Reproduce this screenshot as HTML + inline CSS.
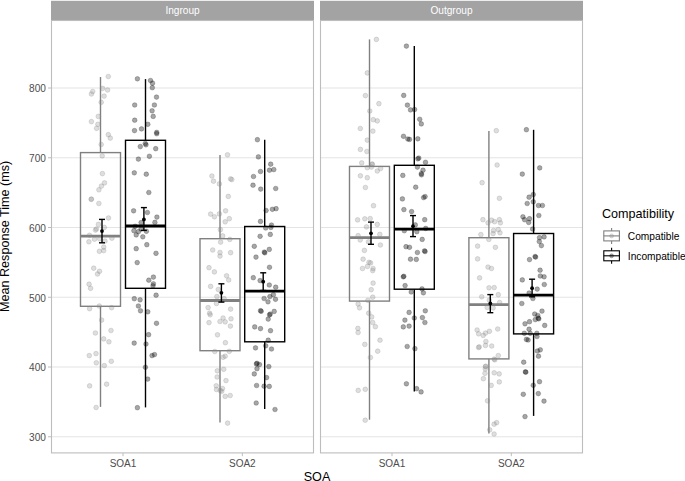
<!DOCTYPE html>
<html><head><meta charset="utf-8"><style>
html,body{margin:0;padding:0;background:#fff;overflow:hidden;}
svg{display:block;font-family:"Liberation Sans",sans-serif;}
circle.c{fill:#888;fill-opacity:.28;stroke:#888;stroke-opacity:.32;stroke-width:.8px;}
circle.i{fill:#000;fill-opacity:.35;stroke:#000;stroke-opacity:.27;stroke-width:.8px;}
</style></head><body>
<svg width="685" height="481" viewBox="0 0 685 481">
<rect x="0" y="0" width="685" height="481" fill="#fff"/>
<line x1="51.5" y1="436.77" x2="313.5" y2="436.77" stroke="#e4e4e4" stroke-width="1.15"/>
<line x1="51.5" y1="367.02" x2="313.5" y2="367.02" stroke="#e4e4e4" stroke-width="1.15"/>
<line x1="51.5" y1="297.27" x2="313.5" y2="297.27" stroke="#e4e4e4" stroke-width="1.15"/>
<line x1="51.5" y1="227.52" x2="313.5" y2="227.52" stroke="#e4e4e4" stroke-width="1.15"/>
<line x1="51.5" y1="157.77" x2="313.5" y2="157.77" stroke="#e4e4e4" stroke-width="1.15"/>
<line x1="51.5" y1="88.02" x2="313.5" y2="88.02" stroke="#e4e4e4" stroke-width="1.15"/>
<rect x="51.0" y="0.8" width="263.0" height="19.2" fill="#a3a3a3"/>
<text x="182.5" y="13.7" fill="#fff" font-size="10.1" text-anchor="middle">Ingroup</text>
<line x1="320.5" y1="436.77" x2="582.5" y2="436.77" stroke="#e4e4e4" stroke-width="1.15"/>
<line x1="320.5" y1="367.02" x2="582.5" y2="367.02" stroke="#e4e4e4" stroke-width="1.15"/>
<line x1="320.5" y1="297.27" x2="582.5" y2="297.27" stroke="#e4e4e4" stroke-width="1.15"/>
<line x1="320.5" y1="227.52" x2="582.5" y2="227.52" stroke="#e4e4e4" stroke-width="1.15"/>
<line x1="320.5" y1="157.77" x2="582.5" y2="157.77" stroke="#e4e4e4" stroke-width="1.15"/>
<line x1="320.5" y1="88.02" x2="582.5" y2="88.02" stroke="#e4e4e4" stroke-width="1.15"/>
<rect x="320.0" y="0.8" width="263.0" height="19.2" fill="#a3a3a3"/>
<text x="451.5" y="13.7" fill="#fff" font-size="10.1" text-anchor="middle">Outgroup</text>
<line x1="100.5" y1="77" x2="100.5" y2="152.6" stroke="#808080" stroke-width="1.4"/>
<line x1="100.5" y1="306.3" x2="100.5" y2="406.9" stroke="#808080" stroke-width="1.4"/>
<rect x="80.5" y="152.6" width="40" height="153.7" fill="none" stroke="#808080" stroke-width="1.4"/>
<line x1="80.5" y1="236.2" x2="120.5" y2="236.2" stroke="#808080" stroke-width="2.8"/>
<line x1="145.5" y1="79.1" x2="145.5" y2="140.3" stroke="#000000" stroke-width="1.4"/>
<line x1="145.5" y1="288.3" x2="145.5" y2="407.4" stroke="#000000" stroke-width="1.4"/>
<rect x="125.5" y="140.3" width="40" height="148.0" fill="none" stroke="#000000" stroke-width="1.4"/>
<line x1="125.5" y1="226.0" x2="165.5" y2="226.0" stroke="#000000" stroke-width="2.8"/>
<line x1="220.0" y1="154.9" x2="220.0" y2="238.7" stroke="#808080" stroke-width="1.4"/>
<line x1="220.0" y1="350.7" x2="220.0" y2="422.6" stroke="#808080" stroke-width="1.4"/>
<rect x="200.0" y="238.7" width="40" height="112.0" fill="none" stroke="#808080" stroke-width="1.4"/>
<line x1="200.0" y1="300.5" x2="240.0" y2="300.5" stroke="#808080" stroke-width="2.8"/>
<line x1="264.7" y1="139.8" x2="264.7" y2="226.5" stroke="#000000" stroke-width="1.4"/>
<line x1="264.7" y1="341.8" x2="264.7" y2="408.9" stroke="#000000" stroke-width="1.4"/>
<rect x="244.7" y="226.5" width="40" height="115.3" fill="none" stroke="#000000" stroke-width="1.4"/>
<line x1="244.7" y1="291.1" x2="284.7" y2="291.1" stroke="#000000" stroke-width="2.8"/>
<line x1="369.5" y1="39.4" x2="369.5" y2="166.4" stroke="#808080" stroke-width="1.4"/>
<line x1="369.5" y1="301.1" x2="369.5" y2="419.7" stroke="#808080" stroke-width="1.4"/>
<rect x="349.5" y="166.4" width="40" height="134.7" fill="none" stroke="#808080" stroke-width="1.4"/>
<line x1="349.5" y1="237.7" x2="389.5" y2="237.7" stroke="#808080" stroke-width="2.8"/>
<line x1="414.3" y1="46.0" x2="414.3" y2="165.3" stroke="#000000" stroke-width="1.4"/>
<line x1="414.3" y1="289.2" x2="414.3" y2="391.6" stroke="#000000" stroke-width="1.4"/>
<rect x="394.3" y="165.3" width="40" height="123.9" fill="none" stroke="#000000" stroke-width="1.4"/>
<line x1="394.3" y1="229.1" x2="434.3" y2="229.1" stroke="#000000" stroke-width="2.8"/>
<line x1="488.9" y1="131.0" x2="488.9" y2="237.7" stroke="#808080" stroke-width="1.4"/>
<line x1="488.9" y1="358.9" x2="488.9" y2="433.4" stroke="#808080" stroke-width="1.4"/>
<rect x="468.9" y="237.7" width="40" height="121.2" fill="none" stroke="#808080" stroke-width="1.4"/>
<line x1="468.9" y1="304.6" x2="508.9" y2="304.6" stroke="#808080" stroke-width="2.8"/>
<line x1="533.6" y1="129.8" x2="533.6" y2="233.5" stroke="#000000" stroke-width="1.4"/>
<line x1="533.6" y1="333.9" x2="533.6" y2="415.9" stroke="#000000" stroke-width="1.4"/>
<rect x="513.6" y="233.5" width="40" height="100.4" fill="none" stroke="#000000" stroke-width="1.4"/>
<line x1="513.6" y1="295.2" x2="553.6" y2="295.2" stroke="#000000" stroke-width="2.8"/>
<circle class="c" cx="108.3" cy="76.5" r="2.35"/>
<circle class="c" cx="102.6" cy="88.4" r="2.35"/>
<circle class="c" cx="107.6" cy="90.0" r="2.35"/>
<circle class="c" cx="92.7" cy="91.5" r="2.35"/>
<circle class="c" cx="91.4" cy="94.0" r="2.35"/>
<circle class="c" cx="104.1" cy="96.1" r="2.35"/>
<circle class="c" cx="101.2" cy="102.3" r="2.35"/>
<circle class="c" cx="98.3" cy="116.4" r="2.35"/>
<circle class="c" cx="91.4" cy="121.6" r="2.35"/>
<circle class="c" cx="97.9" cy="124.3" r="2.35"/>
<circle class="c" cx="96.6" cy="128.3" r="2.35"/>
<circle class="c" cx="108.3" cy="134.7" r="2.35"/>
<circle class="c" cx="110.3" cy="138.1" r="2.35"/>
<circle class="c" cx="101.2" cy="144.5" r="2.35"/>
<circle class="c" cx="102.2" cy="155.9" r="2.35"/>
<circle class="c" cx="102.4" cy="173.6" r="2.35"/>
<circle class="c" cx="104.5" cy="182.9" r="2.35"/>
<circle class="c" cx="101.4" cy="186.1" r="2.35"/>
<circle class="c" cx="98.9" cy="189.8" r="2.35"/>
<circle class="c" cx="91.2" cy="199.4" r="2.35"/>
<circle class="c" cx="91.4" cy="199.0" r="2.35"/>
<circle class="c" cx="98.9" cy="203.5" r="2.35"/>
<circle class="c" cx="108.5" cy="218.0" r="2.35"/>
<circle class="c" cx="98.4" cy="224.4" r="2.35"/>
<circle class="c" cx="104.3" cy="227.4" r="2.35"/>
<circle class="c" cx="96.4" cy="229.0" r="2.35"/>
<circle class="c" cx="95.5" cy="230.1" r="2.35"/>
<circle class="c" cx="89.5" cy="235.3" r="2.35"/>
<circle class="c" cx="94.5" cy="239.2" r="2.35"/>
<circle class="c" cx="88.9" cy="241.8" r="2.35"/>
<circle class="c" cx="99.7" cy="238.8" r="2.35"/>
<circle class="c" cx="105" cy="241.0" r="2.35"/>
<circle class="c" cx="111.9" cy="238.2" r="2.35"/>
<circle class="c" cx="103.7" cy="247.1" r="2.35"/>
<circle class="c" cx="99.4" cy="251.3" r="2.35"/>
<circle class="c" cx="103.7" cy="250.6" r="2.35"/>
<circle class="c" cx="93.7" cy="268.2" r="2.35"/>
<circle class="c" cx="99.5" cy="271.3" r="2.35"/>
<circle class="c" cx="97.5" cy="274.0" r="2.35"/>
<circle class="c" cx="89.1" cy="284.2" r="2.35"/>
<circle class="c" cx="90.6" cy="288.3" r="2.35"/>
<circle class="c" cx="89.6" cy="308.7" r="2.35"/>
<circle class="c" cx="99.3" cy="306.0" r="2.35"/>
<circle class="c" cx="111.6" cy="307.7" r="2.35"/>
<circle class="c" cx="101.6" cy="320.1" r="2.35"/>
<circle class="c" cx="95.4" cy="333.0" r="2.35"/>
<circle class="c" cx="111" cy="330.5" r="2.35"/>
<circle class="c" cx="103.7" cy="338.9" r="2.35"/>
<circle class="c" cx="108.9" cy="341.8" r="2.35"/>
<circle class="c" cx="89.3" cy="355.6" r="2.35"/>
<circle class="c" cx="96" cy="353.6" r="2.35"/>
<circle class="c" cx="96.3" cy="362.8" r="2.35"/>
<circle class="c" cx="111.3" cy="361.3" r="2.35"/>
<circle class="c" cx="104.3" cy="365.6" r="2.35"/>
<circle class="c" cx="89.6" cy="385.9" r="2.35"/>
<circle class="c" cx="106.6" cy="384.2" r="2.35"/>
<circle class="c" cx="96.1" cy="407.5" r="2.35"/>
<circle class="i" cx="137.4" cy="78.8" r="2.35"/>
<circle class="i" cx="150.5" cy="80.5" r="2.35"/>
<circle class="i" cx="152.5" cy="83.2" r="2.35"/>
<circle class="i" cx="152.3" cy="87.7" r="2.35"/>
<circle class="i" cx="156.5" cy="97.1" r="2.35"/>
<circle class="i" cx="134.7" cy="105.0" r="2.35"/>
<circle class="i" cx="154.4" cy="105.0" r="2.35"/>
<circle class="i" cx="152.1" cy="110.8" r="2.35"/>
<circle class="i" cx="153.2" cy="116.4" r="2.35"/>
<circle class="i" cx="134.7" cy="120.2" r="2.35"/>
<circle class="i" cx="147.8" cy="124.3" r="2.35"/>
<circle class="i" cx="141.5" cy="128.9" r="2.35"/>
<circle class="i" cx="134.5" cy="130.6" r="2.35"/>
<circle class="i" cx="156.7" cy="132.4" r="2.35"/>
<circle class="i" cx="156.7" cy="133.7" r="2.35"/>
<circle class="i" cx="145.3" cy="143.5" r="2.35"/>
<circle class="i" cx="146" cy="144.8" r="2.35"/>
<circle class="i" cx="140.3" cy="146.6" r="2.35"/>
<circle class="i" cx="155.7" cy="148.7" r="2.35"/>
<circle class="i" cx="149.4" cy="156.3" r="2.35"/>
<circle class="i" cx="138.4" cy="159.1" r="2.35"/>
<circle class="i" cx="134.3" cy="172.8" r="2.35"/>
<circle class="i" cx="146.3" cy="174.2" r="2.35"/>
<circle class="i" cx="148.8" cy="192.5" r="2.35"/>
<circle class="i" cx="133.6" cy="210.8" r="2.35"/>
<circle class="i" cx="147.4" cy="212.5" r="2.35"/>
<circle class="i" cx="156.9" cy="217.1" r="2.35"/>
<circle class="i" cx="154.9" cy="222.4" r="2.35"/>
<circle class="i" cx="141.1" cy="222.6" r="2.35"/>
<circle class="i" cx="135.2" cy="226.3" r="2.35"/>
<circle class="i" cx="133.9" cy="230.7" r="2.35"/>
<circle class="i" cx="138.5" cy="231.6" r="2.35"/>
<circle class="i" cx="141.1" cy="229.0" r="2.35"/>
<circle class="i" cx="146.4" cy="231.3" r="2.35"/>
<circle class="i" cx="136.2" cy="234.9" r="2.35"/>
<circle class="i" cx="142.8" cy="236.8" r="2.35"/>
<circle class="i" cx="146.8" cy="244.7" r="2.35"/>
<circle class="i" cx="136.2" cy="248.7" r="2.35"/>
<circle class="i" cx="156" cy="253.3" r="2.35"/>
<circle class="i" cx="137.2" cy="262.6" r="2.35"/>
<circle class="i" cx="153.4" cy="277.1" r="2.35"/>
<circle class="i" cx="148.8" cy="280.2" r="2.35"/>
<circle class="i" cx="153.4" cy="283.8" r="2.35"/>
<circle class="i" cx="153" cy="285.8" r="2.35"/>
<circle class="i" cx="156.1" cy="295.2" r="2.35"/>
<circle class="i" cx="134.3" cy="298.7" r="2.35"/>
<circle class="i" cx="140.1" cy="299.8" r="2.35"/>
<circle class="i" cx="138.4" cy="306.0" r="2.35"/>
<circle class="i" cx="140.5" cy="310.8" r="2.35"/>
<circle class="i" cx="147.8" cy="311.8" r="2.35"/>
<circle class="i" cx="156.5" cy="323.3" r="2.35"/>
<circle class="i" cx="148.6" cy="334.7" r="2.35"/>
<circle class="i" cx="134.2" cy="343.1" r="2.35"/>
<circle class="i" cx="146" cy="344.0" r="2.35"/>
<circle class="i" cx="152" cy="355.6" r="2.35"/>
<circle class="i" cx="154.5" cy="354.6" r="2.35"/>
<circle class="i" cx="145.4" cy="367.3" r="2.35"/>
<circle class="i" cx="147.7" cy="379.1" r="2.35"/>
<circle class="i" cx="137.4" cy="407.7" r="2.35"/>
<circle class="c" cx="227.5" cy="154.8" r="2.35"/>
<circle class="c" cx="211.9" cy="176.0" r="2.35"/>
<circle class="c" cx="213.5" cy="181.2" r="2.35"/>
<circle class="c" cx="219.4" cy="183.9" r="2.35"/>
<circle class="c" cx="230.6" cy="178.9" r="2.35"/>
<circle class="c" cx="231.8" cy="179.6" r="2.35"/>
<circle class="c" cx="228.3" cy="196.4" r="2.35"/>
<circle class="c" cx="225.6" cy="210.8" r="2.35"/>
<circle class="c" cx="210.6" cy="214.1" r="2.35"/>
<circle class="c" cx="214.4" cy="216.8" r="2.35"/>
<circle class="c" cx="219.4" cy="213.9" r="2.35"/>
<circle class="c" cx="229.3" cy="218.7" r="2.35"/>
<circle class="c" cx="225.2" cy="221.8" r="2.35"/>
<circle class="c" cx="220.4" cy="229.7" r="2.35"/>
<circle class="c" cx="222.7" cy="235.9" r="2.35"/>
<circle class="c" cx="229.8" cy="239.4" r="2.35"/>
<circle class="c" cx="220.6" cy="242.1" r="2.35"/>
<circle class="c" cx="212.7" cy="250.0" r="2.35"/>
<circle class="c" cx="220" cy="252.5" r="2.35"/>
<circle class="c" cx="220" cy="256.1" r="2.35"/>
<circle class="c" cx="230.6" cy="252.7" r="2.35"/>
<circle class="c" cx="209" cy="267.7" r="2.35"/>
<circle class="c" cx="214.4" cy="271.9" r="2.35"/>
<circle class="c" cx="226.6" cy="275.8" r="2.35"/>
<circle class="c" cx="228.7" cy="280.0" r="2.35"/>
<circle class="c" cx="210.6" cy="286.4" r="2.35"/>
<circle class="c" cx="218.3" cy="289.5" r="2.35"/>
<circle class="c" cx="216.9" cy="296.6" r="2.35"/>
<circle class="c" cx="224.1" cy="298.7" r="2.35"/>
<circle class="c" cx="216.5" cy="303.5" r="2.35"/>
<circle class="c" cx="208.1" cy="307.6" r="2.35"/>
<circle class="c" cx="209.6" cy="313.2" r="2.35"/>
<circle class="c" cx="230.6" cy="309.1" r="2.35"/>
<circle class="c" cx="223.1" cy="318.0" r="2.35"/>
<circle class="c" cx="231" cy="318.8" r="2.35"/>
<circle class="c" cx="210.2" cy="314.8" r="2.35"/>
<circle class="c" cx="209" cy="322.6" r="2.35"/>
<circle class="c" cx="220" cy="321.5" r="2.35"/>
<circle class="c" cx="225.2" cy="321.9" r="2.35"/>
<circle class="c" cx="230.4" cy="326.1" r="2.35"/>
<circle class="c" cx="217.5" cy="334.8" r="2.35"/>
<circle class="c" cx="225.4" cy="342.7" r="2.35"/>
<circle class="c" cx="214.8" cy="351.5" r="2.35"/>
<circle class="c" cx="229.3" cy="351.3" r="2.35"/>
<circle class="c" cx="223.1" cy="357.3" r="2.35"/>
<circle class="c" cx="225.2" cy="356.2" r="2.35"/>
<circle class="c" cx="223.7" cy="369.3" r="2.35"/>
<circle class="c" cx="217.3" cy="370.8" r="2.35"/>
<circle class="c" cx="217.1" cy="377.0" r="2.35"/>
<circle class="c" cx="226" cy="380.6" r="2.35"/>
<circle class="c" cx="216.2" cy="385.8" r="2.35"/>
<circle class="c" cx="216.5" cy="389.5" r="2.35"/>
<circle class="c" cx="220.2" cy="390.5" r="2.35"/>
<circle class="c" cx="222.5" cy="388.5" r="2.35"/>
<circle class="c" cx="225.2" cy="396.4" r="2.35"/>
<circle class="c" cx="230.2" cy="395.5" r="2.35"/>
<circle class="c" cx="221.7" cy="391.3" r="2.35"/>
<circle class="c" cx="227.6" cy="423.1" r="2.35"/>
<circle class="i" cx="257.4" cy="139.7" r="2.35"/>
<circle class="i" cx="258.4" cy="156.9" r="2.35"/>
<circle class="i" cx="270.7" cy="164.2" r="2.35"/>
<circle class="i" cx="269.5" cy="170.2" r="2.35"/>
<circle class="i" cx="273.8" cy="169.6" r="2.35"/>
<circle class="i" cx="260.5" cy="171.5" r="2.35"/>
<circle class="i" cx="253.5" cy="176.5" r="2.35"/>
<circle class="i" cx="253" cy="185.2" r="2.35"/>
<circle class="i" cx="260.7" cy="189.1" r="2.35"/>
<circle class="i" cx="275.7" cy="188.5" r="2.35"/>
<circle class="i" cx="266.1" cy="210.5" r="2.35"/>
<circle class="i" cx="272.4" cy="209.3" r="2.35"/>
<circle class="i" cx="276.1" cy="208.7" r="2.35"/>
<circle class="i" cx="260.5" cy="221.4" r="2.35"/>
<circle class="i" cx="271.5" cy="225.1" r="2.35"/>
<circle class="i" cx="270.9" cy="227.4" r="2.35"/>
<circle class="i" cx="265.7" cy="228.0" r="2.35"/>
<circle class="i" cx="260.1" cy="236.3" r="2.35"/>
<circle class="i" cx="270.3" cy="234.4" r="2.35"/>
<circle class="i" cx="254.3" cy="246.3" r="2.35"/>
<circle class="i" cx="269.3" cy="249.4" r="2.35"/>
<circle class="i" cx="264.3" cy="252.1" r="2.35"/>
<circle class="i" cx="264.8" cy="252.8" r="2.35"/>
<circle class="i" cx="256" cy="257.1" r="2.35"/>
<circle class="i" cx="269.5" cy="267.3" r="2.35"/>
<circle class="i" cx="253.3" cy="277.7" r="2.35"/>
<circle class="i" cx="260.1" cy="280.6" r="2.35"/>
<circle class="i" cx="269.3" cy="285.0" r="2.35"/>
<circle class="i" cx="275.7" cy="287.2" r="2.35"/>
<circle class="i" cx="273.4" cy="294.7" r="2.35"/>
<circle class="i" cx="269.9" cy="296.6" r="2.35"/>
<circle class="i" cx="264.1" cy="298.5" r="2.35"/>
<circle class="i" cx="275.5" cy="299.3" r="2.35"/>
<circle class="i" cx="268" cy="301.8" r="2.35"/>
<circle class="i" cx="260.5" cy="310.7" r="2.35"/>
<circle class="i" cx="261.2" cy="311.3" r="2.35"/>
<circle class="i" cx="274.2" cy="311.4" r="2.35"/>
<circle class="i" cx="269.5" cy="314.9" r="2.35"/>
<circle class="i" cx="270.2" cy="314.1" r="2.35"/>
<circle class="i" cx="268.2" cy="319.1" r="2.35"/>
<circle class="i" cx="254.7" cy="326.9" r="2.35"/>
<circle class="i" cx="260.5" cy="328.6" r="2.35"/>
<circle class="i" cx="270.5" cy="330.7" r="2.35"/>
<circle class="i" cx="268.2" cy="340.2" r="2.35"/>
<circle class="i" cx="255.5" cy="347.9" r="2.35"/>
<circle class="i" cx="265.7" cy="345.8" r="2.35"/>
<circle class="i" cx="271.5" cy="349.0" r="2.35"/>
<circle class="i" cx="256.4" cy="363.9" r="2.35"/>
<circle class="i" cx="257" cy="363.3" r="2.35"/>
<circle class="i" cx="259.5" cy="364.6" r="2.35"/>
<circle class="i" cx="257" cy="368.7" r="2.35"/>
<circle class="i" cx="268.8" cy="366.6" r="2.35"/>
<circle class="i" cx="254.3" cy="373.9" r="2.35"/>
<circle class="i" cx="266.6" cy="377.6" r="2.35"/>
<circle class="i" cx="256.6" cy="385.5" r="2.35"/>
<circle class="i" cx="264.1" cy="386.2" r="2.35"/>
<circle class="i" cx="269.3" cy="386.4" r="2.35"/>
<circle class="i" cx="256.2" cy="403.0" r="2.35"/>
<circle class="i" cx="275" cy="409.5" r="2.35"/>
<circle class="c" cx="376.4" cy="39.4" r="2.35"/>
<circle class="c" cx="367.3" cy="72.9" r="2.35"/>
<circle class="c" cx="365.4" cy="95.6" r="2.35"/>
<circle class="c" cx="378.9" cy="103.7" r="2.35"/>
<circle class="c" cx="369.8" cy="111.0" r="2.35"/>
<circle class="c" cx="373.3" cy="119.7" r="2.35"/>
<circle class="c" cx="377.3" cy="120.9" r="2.35"/>
<circle class="c" cx="360.3" cy="128.5" r="2.35"/>
<circle class="c" cx="372.9" cy="131.1" r="2.35"/>
<circle class="c" cx="367.3" cy="140.1" r="2.35"/>
<circle class="c" cx="360.4" cy="149.4" r="2.35"/>
<circle class="c" cx="366.9" cy="151.5" r="2.35"/>
<circle class="c" cx="361.7" cy="162.9" r="2.35"/>
<circle class="c" cx="372.1" cy="164.0" r="2.35"/>
<circle class="c" cx="372.3" cy="164.4" r="2.35"/>
<circle class="c" cx="367.3" cy="167.7" r="2.35"/>
<circle class="c" cx="371.4" cy="167.1" r="2.35"/>
<circle class="c" cx="377.3" cy="171.0" r="2.35"/>
<circle class="c" cx="380.6" cy="168.5" r="2.35"/>
<circle class="c" cx="360.4" cy="175.8" r="2.35"/>
<circle class="c" cx="367.3" cy="177.7" r="2.35"/>
<circle class="c" cx="365.4" cy="187.5" r="2.35"/>
<circle class="c" cx="373.5" cy="205.7" r="2.35"/>
<circle class="c" cx="357.6" cy="219.9" r="2.35"/>
<circle class="c" cx="364.8" cy="218.8" r="2.35"/>
<circle class="c" cx="370.2" cy="218.6" r="2.35"/>
<circle class="c" cx="366.5" cy="226.9" r="2.35"/>
<circle class="c" cx="377.3" cy="224.4" r="2.35"/>
<circle class="c" cx="358.1" cy="235.7" r="2.35"/>
<circle class="c" cx="360.2" cy="240.0" r="2.35"/>
<circle class="c" cx="379.8" cy="234.4" r="2.35"/>
<circle class="c" cx="368.5" cy="241.9" r="2.35"/>
<circle class="c" cx="380.4" cy="245.0" r="2.35"/>
<circle class="c" cx="364.4" cy="250.4" r="2.35"/>
<circle class="c" cx="363.1" cy="259.2" r="2.35"/>
<circle class="c" cx="369" cy="262.3" r="2.35"/>
<circle class="c" cx="370.6" cy="262.9" r="2.35"/>
<circle class="c" cx="367.5" cy="266.4" r="2.35"/>
<circle class="c" cx="373.1" cy="268.5" r="2.35"/>
<circle class="c" cx="362.5" cy="268.5" r="2.35"/>
<circle class="c" cx="372.7" cy="270.6" r="2.35"/>
<circle class="c" cx="373.1" cy="283.1" r="2.35"/>
<circle class="c" cx="371.2" cy="289.7" r="2.35"/>
<circle class="c" cx="372.7" cy="297.2" r="2.35"/>
<circle class="c" cx="367.9" cy="300.3" r="2.35"/>
<circle class="c" cx="358.1" cy="303.9" r="2.35"/>
<circle class="c" cx="359.5" cy="307.8" r="2.35"/>
<circle class="c" cx="368.7" cy="313.2" r="2.35"/>
<circle class="c" cx="371.7" cy="316.9" r="2.35"/>
<circle class="c" cx="372.7" cy="322.5" r="2.35"/>
<circle class="c" cx="375.4" cy="326.7" r="2.35"/>
<circle class="c" cx="357.9" cy="328.4" r="2.35"/>
<circle class="c" cx="358.1" cy="332.5" r="2.35"/>
<circle class="c" cx="380" cy="340.2" r="2.35"/>
<circle class="c" cx="364.8" cy="344.4" r="2.35"/>
<circle class="c" cx="377.7" cy="351.2" r="2.35"/>
<circle class="c" cx="370.4" cy="357.5" r="2.35"/>
<circle class="c" cx="358.2" cy="390.4" r="2.35"/>
<circle class="c" cx="365.3" cy="389.3" r="2.35"/>
<circle class="c" cx="365.2" cy="420.2" r="2.35"/>
<circle class="i" cx="406.4" cy="46.1" r="2.35"/>
<circle class="i" cx="403.7" cy="95.4" r="2.35"/>
<circle class="i" cx="407.4" cy="105.1" r="2.35"/>
<circle class="i" cx="410.5" cy="109.9" r="2.35"/>
<circle class="i" cx="414.6" cy="109.5" r="2.35"/>
<circle class="i" cx="419.7" cy="119.3" r="2.35"/>
<circle class="i" cx="421.3" cy="123.9" r="2.35"/>
<circle class="i" cx="403.5" cy="136.3" r="2.35"/>
<circle class="i" cx="407.8" cy="139.0" r="2.35"/>
<circle class="i" cx="409.5" cy="139.4" r="2.35"/>
<circle class="i" cx="417.8" cy="138.8" r="2.35"/>
<circle class="i" cx="417.8" cy="158.8" r="2.35"/>
<circle class="i" cx="418.8" cy="158.1" r="2.35"/>
<circle class="i" cx="425.5" cy="162.3" r="2.35"/>
<circle class="i" cx="417.4" cy="167.1" r="2.35"/>
<circle class="i" cx="423" cy="170.2" r="2.35"/>
<circle class="i" cx="421.3" cy="173.7" r="2.35"/>
<circle class="i" cx="421.5" cy="174.8" r="2.35"/>
<circle class="i" cx="402.8" cy="175.4" r="2.35"/>
<circle class="i" cx="415.7" cy="187.2" r="2.35"/>
<circle class="i" cx="425.1" cy="196.6" r="2.35"/>
<circle class="i" cx="423.6" cy="197.6" r="2.35"/>
<circle class="i" cx="402.4" cy="198.9" r="2.35"/>
<circle class="i" cx="403.9" cy="209.6" r="2.35"/>
<circle class="i" cx="411.6" cy="211.6" r="2.35"/>
<circle class="i" cx="424.7" cy="219.7" r="2.35"/>
<circle class="i" cx="415.3" cy="224.9" r="2.35"/>
<circle class="i" cx="425.7" cy="228.4" r="2.35"/>
<circle class="i" cx="404.3" cy="230.7" r="2.35"/>
<circle class="i" cx="416.8" cy="231.7" r="2.35"/>
<circle class="i" cx="422.2" cy="239.4" r="2.35"/>
<circle class="i" cx="406" cy="246.7" r="2.35"/>
<circle class="i" cx="409.5" cy="247.3" r="2.35"/>
<circle class="i" cx="417.4" cy="252.5" r="2.35"/>
<circle class="i" cx="425.1" cy="251.5" r="2.35"/>
<circle class="i" cx="424.5" cy="250.9" r="2.35"/>
<circle class="i" cx="410.5" cy="259.2" r="2.35"/>
<circle class="i" cx="416.3" cy="259.4" r="2.35"/>
<circle class="i" cx="403.3" cy="276.8" r="2.35"/>
<circle class="i" cx="403.8" cy="276.3" r="2.35"/>
<circle class="i" cx="405.1" cy="285.6" r="2.35"/>
<circle class="i" cx="422" cy="288.9" r="2.35"/>
<circle class="i" cx="411.2" cy="292.0" r="2.35"/>
<circle class="i" cx="423.4" cy="292.8" r="2.35"/>
<circle class="i" cx="425.3" cy="310.8" r="2.35"/>
<circle class="i" cx="409.1" cy="312.4" r="2.35"/>
<circle class="i" cx="404.9" cy="320.1" r="2.35"/>
<circle class="i" cx="414.3" cy="318.0" r="2.35"/>
<circle class="i" cx="422.4" cy="317.6" r="2.35"/>
<circle class="i" cx="424.9" cy="322.5" r="2.35"/>
<circle class="i" cx="403.3" cy="326.9" r="2.35"/>
<circle class="i" cx="409.1" cy="326.1" r="2.35"/>
<circle class="i" cx="407.2" cy="346.5" r="2.35"/>
<circle class="i" cx="414.9" cy="348.7" r="2.35"/>
<circle class="i" cx="406.4" cy="383.8" r="2.35"/>
<circle class="i" cx="416.6" cy="388.7" r="2.35"/>
<circle class="i" cx="421.1" cy="391.9" r="2.35"/>
<circle class="c" cx="496.3" cy="130.7" r="2.35"/>
<circle class="c" cx="497.1" cy="165.0" r="2.35"/>
<circle class="c" cx="482.1" cy="182.7" r="2.35"/>
<circle class="c" cx="499.4" cy="198.3" r="2.35"/>
<circle class="c" cx="482.9" cy="219.7" r="2.35"/>
<circle class="c" cx="491.5" cy="220.2" r="2.35"/>
<circle class="c" cx="499.4" cy="219.7" r="2.35"/>
<circle class="c" cx="488" cy="222.8" r="2.35"/>
<circle class="c" cx="494.6" cy="221.7" r="2.35"/>
<circle class="c" cx="500.4" cy="222.8" r="2.35"/>
<circle class="c" cx="493.6" cy="230.5" r="2.35"/>
<circle class="c" cx="498.3" cy="229.6" r="2.35"/>
<circle class="c" cx="500" cy="232.8" r="2.35"/>
<circle class="c" cx="493.1" cy="233.6" r="2.35"/>
<circle class="c" cx="480.9" cy="234.6" r="2.35"/>
<circle class="c" cx="488.8" cy="239.4" r="2.35"/>
<circle class="c" cx="477.6" cy="246.1" r="2.35"/>
<circle class="c" cx="495.4" cy="247.3" r="2.35"/>
<circle class="c" cx="477.6" cy="258.9" r="2.35"/>
<circle class="c" cx="488" cy="267.1" r="2.35"/>
<circle class="c" cx="491.5" cy="268.5" r="2.35"/>
<circle class="c" cx="479.6" cy="277.9" r="2.35"/>
<circle class="c" cx="489" cy="287.8" r="2.35"/>
<circle class="c" cx="494.2" cy="287.6" r="2.35"/>
<circle class="c" cx="481.7" cy="296.8" r="2.35"/>
<circle class="c" cx="498.3" cy="294.7" r="2.35"/>
<circle class="c" cx="489.3" cy="300.1" r="2.35"/>
<circle class="c" cx="499.6" cy="302.5" r="2.35"/>
<circle class="c" cx="487.2" cy="307.4" r="2.35"/>
<circle class="c" cx="493.1" cy="307.9" r="2.35"/>
<circle class="c" cx="477.1" cy="330.0" r="2.35"/>
<circle class="c" cx="478.6" cy="333.8" r="2.35"/>
<circle class="c" cx="483.2" cy="335.4" r="2.35"/>
<circle class="c" cx="485.5" cy="333.1" r="2.35"/>
<circle class="c" cx="489.4" cy="331.3" r="2.35"/>
<circle class="c" cx="497.7" cy="329.0" r="2.35"/>
<circle class="c" cx="485.9" cy="341.5" r="2.35"/>
<circle class="c" cx="485.5" cy="345.4" r="2.35"/>
<circle class="c" cx="479.2" cy="346.9" r="2.35"/>
<circle class="c" cx="478.6" cy="347.5" r="2.35"/>
<circle class="c" cx="491.7" cy="346.0" r="2.35"/>
<circle class="c" cx="498.3" cy="355.6" r="2.35"/>
<circle class="c" cx="494.2" cy="359.1" r="2.35"/>
<circle class="c" cx="494.8" cy="359.8" r="2.35"/>
<circle class="c" cx="485.5" cy="366.6" r="2.35"/>
<circle class="c" cx="485.7" cy="366.3" r="2.35"/>
<circle class="c" cx="485.3" cy="368.9" r="2.35"/>
<circle class="c" cx="485" cy="373.3" r="2.35"/>
<circle class="c" cx="494.2" cy="372.8" r="2.35"/>
<circle class="c" cx="499.2" cy="373.9" r="2.35"/>
<circle class="c" cx="483.4" cy="378.7" r="2.35"/>
<circle class="c" cx="499.3" cy="381.9" r="2.35"/>
<circle class="c" cx="491.2" cy="385.4" r="2.35"/>
<circle class="c" cx="487.5" cy="400.8" r="2.35"/>
<circle class="c" cx="494.1" cy="424.2" r="2.35"/>
<circle class="c" cx="496.6" cy="422.7" r="2.35"/>
<circle class="c" cx="489.7" cy="429.8" r="2.35"/>
<circle class="c" cx="494.1" cy="434.0" r="2.35"/>
<circle class="i" cx="526.4" cy="129.7" r="2.35"/>
<circle class="i" cx="539.7" cy="167.9" r="2.35"/>
<circle class="i" cx="522.3" cy="174.1" r="2.35"/>
<circle class="i" cx="533.3" cy="194.5" r="2.35"/>
<circle class="i" cx="529.1" cy="197.2" r="2.35"/>
<circle class="i" cx="533.3" cy="201.8" r="2.35"/>
<circle class="i" cx="527.2" cy="203.5" r="2.35"/>
<circle class="i" cx="538.5" cy="205.5" r="2.35"/>
<circle class="i" cx="542.4" cy="205.5" r="2.35"/>
<circle class="i" cx="538.8" cy="215.5" r="2.35"/>
<circle class="i" cx="522.9" cy="216.8" r="2.35"/>
<circle class="i" cx="529.5" cy="218.7" r="2.35"/>
<circle class="i" cx="524.6" cy="219.7" r="2.35"/>
<circle class="i" cx="528.7" cy="222.4" r="2.35"/>
<circle class="i" cx="532.6" cy="229.0" r="2.35"/>
<circle class="i" cx="539.5" cy="237.7" r="2.35"/>
<circle class="i" cx="544.1" cy="236.9" r="2.35"/>
<circle class="i" cx="539.3" cy="241.5" r="2.35"/>
<circle class="i" cx="541.4" cy="245.6" r="2.35"/>
<circle class="i" cx="535.1" cy="256.5" r="2.35"/>
<circle class="i" cx="535.6" cy="257.1" r="2.35"/>
<circle class="i" cx="529.5" cy="259.6" r="2.35"/>
<circle class="i" cx="540.1" cy="270.2" r="2.35"/>
<circle class="i" cx="540.3" cy="276.0" r="2.35"/>
<circle class="i" cx="544.1" cy="276.8" r="2.35"/>
<circle class="i" cx="522.3" cy="279.9" r="2.35"/>
<circle class="i" cx="544.3" cy="284.5" r="2.35"/>
<circle class="i" cx="537.2" cy="289.1" r="2.35"/>
<circle class="i" cx="529.1" cy="293.0" r="2.35"/>
<circle class="i" cx="532.9" cy="298.5" r="2.35"/>
<circle class="i" cx="521.8" cy="303.5" r="2.35"/>
<circle class="i" cx="542" cy="311.1" r="2.35"/>
<circle class="i" cx="534.7" cy="314.0" r="2.35"/>
<circle class="i" cx="537.8" cy="315.5" r="2.35"/>
<circle class="i" cx="535.3" cy="319.6" r="2.35"/>
<circle class="i" cx="538.3" cy="318.2" r="2.35"/>
<circle class="i" cx="538.8" cy="318.8" r="2.35"/>
<circle class="i" cx="529.5" cy="321.7" r="2.35"/>
<circle class="i" cx="525" cy="323.8" r="2.35"/>
<circle class="i" cx="544.7" cy="325.4" r="2.35"/>
<circle class="i" cx="529.1" cy="329.2" r="2.35"/>
<circle class="i" cx="524.3" cy="333.3" r="2.35"/>
<circle class="i" cx="530.2" cy="333.3" r="2.35"/>
<circle class="i" cx="536.8" cy="333.3" r="2.35"/>
<circle class="i" cx="537" cy="336.5" r="2.35"/>
<circle class="i" cx="526.4" cy="339.4" r="2.35"/>
<circle class="i" cx="528.1" cy="340.0" r="2.35"/>
<circle class="i" cx="540.3" cy="349.8" r="2.35"/>
<circle class="i" cx="537.4" cy="351.0" r="2.35"/>
<circle class="i" cx="538.5" cy="356.2" r="2.35"/>
<circle class="i" cx="523.7" cy="362.2" r="2.35"/>
<circle class="i" cx="525.4" cy="371.8" r="2.35"/>
<circle class="i" cx="525.8" cy="372.2" r="2.35"/>
<circle class="i" cx="539.5" cy="381.7" r="2.35"/>
<circle class="i" cx="533.3" cy="385.3" r="2.35"/>
<circle class="i" cx="523.3" cy="394.3" r="2.35"/>
<circle class="i" cx="538.3" cy="393.6" r="2.35"/>
<circle class="i" cx="544" cy="401.1" r="2.35"/>
<circle class="i" cx="525" cy="416.6" r="2.35"/>
<line x1="102" y1="219.4" x2="102" y2="242.8" stroke="#000" stroke-width="1.4"/>
<line x1="99" y1="219.4" x2="105" y2="219.4" stroke="#000" stroke-width="1.4"/>
<line x1="99" y1="242.8" x2="105" y2="242.8" stroke="#000" stroke-width="1.4"/>
<circle cx="102" cy="231.1" r="1.9" fill="#000"/>
<line x1="143.9" y1="207.6" x2="143.9" y2="230.4" stroke="#000" stroke-width="1.4"/>
<line x1="140.9" y1="207.6" x2="146.9" y2="207.6" stroke="#000" stroke-width="1.4"/>
<line x1="140.9" y1="230.4" x2="146.9" y2="230.4" stroke="#000" stroke-width="1.4"/>
<circle cx="143.9" cy="219.4" r="1.9" fill="#000"/>
<line x1="221.4" y1="283.8" x2="221.4" y2="302.1" stroke="#000" stroke-width="1.4"/>
<line x1="218.4" y1="283.8" x2="224.4" y2="283.8" stroke="#000" stroke-width="1.4"/>
<line x1="218.4" y1="302.1" x2="224.4" y2="302.1" stroke="#000" stroke-width="1.4"/>
<circle cx="221.4" cy="292.8" r="1.9" fill="#000"/>
<line x1="263.2" y1="272.8" x2="263.2" y2="290.5" stroke="#000" stroke-width="1.4"/>
<line x1="260.2" y1="272.8" x2="266.2" y2="272.8" stroke="#000" stroke-width="1.4"/>
<line x1="260.2" y1="290.5" x2="266.2" y2="290.5" stroke="#000" stroke-width="1.4"/>
<circle cx="263.2" cy="281.7" r="1.9" fill="#000"/>
<line x1="371.0" y1="222.1" x2="371.0" y2="244.3" stroke="#000" stroke-width="1.4"/>
<line x1="368.0" y1="222.1" x2="374.0" y2="222.1" stroke="#000" stroke-width="1.4"/>
<line x1="368.0" y1="244.3" x2="374.0" y2="244.3" stroke="#000" stroke-width="1.4"/>
<circle cx="371.0" cy="233.3" r="1.9" fill="#000"/>
<line x1="413.0" y1="215.6" x2="413.0" y2="236.6" stroke="#000" stroke-width="1.4"/>
<line x1="410.0" y1="215.6" x2="416.0" y2="215.6" stroke="#000" stroke-width="1.4"/>
<line x1="410.0" y1="236.6" x2="416.0" y2="236.6" stroke="#000" stroke-width="1.4"/>
<circle cx="413.0" cy="226.2" r="1.9" fill="#000"/>
<line x1="490.3" y1="294.6" x2="490.3" y2="312.7" stroke="#000" stroke-width="1.4"/>
<line x1="487.3" y1="294.6" x2="493.3" y2="294.6" stroke="#000" stroke-width="1.4"/>
<line x1="487.3" y1="312.7" x2="493.3" y2="312.7" stroke="#000" stroke-width="1.4"/>
<circle cx="490.3" cy="303.4" r="1.9" fill="#000"/>
<line x1="532.1" y1="279.2" x2="532.1" y2="296.8" stroke="#000" stroke-width="1.4"/>
<line x1="529.1" y1="279.2" x2="535.1" y2="279.2" stroke="#000" stroke-width="1.4"/>
<line x1="529.1" y1="296.8" x2="535.1" y2="296.8" stroke="#000" stroke-width="1.4"/>
<circle cx="532.1" cy="288.2" r="1.9" fill="#000"/>
<rect x="51.5" y="20.5" width="262.0" height="432.4" fill="none" stroke="#bdbdbd" stroke-width="1.1"/>
<line x1="123.0" y1="452.9" x2="123.0" y2="456.2" stroke="#bdbdbd" stroke-width="1"/>
<text x="123.0" y="466.9" fill="#4d4d4d" font-size="10.0" text-anchor="middle">SOA1</text>
<line x1="242.35" y1="452.9" x2="242.35" y2="456.2" stroke="#bdbdbd" stroke-width="1"/>
<text x="242.35" y="466.9" fill="#4d4d4d" font-size="10.0" text-anchor="middle">SOA2</text>
<rect x="320.5" y="20.5" width="262.0" height="432.4" fill="none" stroke="#bdbdbd" stroke-width="1.1"/>
<line x1="392.0" y1="452.9" x2="392.0" y2="456.2" stroke="#bdbdbd" stroke-width="1"/>
<text x="392.0" y="466.9" fill="#4d4d4d" font-size="10.0" text-anchor="middle">SOA1</text>
<line x1="511.3" y1="452.9" x2="511.3" y2="456.2" stroke="#bdbdbd" stroke-width="1"/>
<text x="511.3" y="466.9" fill="#4d4d4d" font-size="10.0" text-anchor="middle">SOA2</text>
<line x1="48" y1="436.77" x2="51.5" y2="436.77" stroke="#bdbdbd" stroke-width="1"/>
<text x="45.9" y="441.17" fill="#4d4d4d" font-size="10.1" text-anchor="end">300</text>
<line x1="48" y1="367.02" x2="51.5" y2="367.02" stroke="#bdbdbd" stroke-width="1"/>
<text x="45.9" y="371.42" fill="#4d4d4d" font-size="10.1" text-anchor="end">400</text>
<line x1="48" y1="297.27" x2="51.5" y2="297.27" stroke="#bdbdbd" stroke-width="1"/>
<text x="45.9" y="301.67" fill="#4d4d4d" font-size="10.1" text-anchor="end">500</text>
<line x1="48" y1="227.52" x2="51.5" y2="227.52" stroke="#bdbdbd" stroke-width="1"/>
<text x="45.9" y="231.92" fill="#4d4d4d" font-size="10.1" text-anchor="end">600</text>
<line x1="48" y1="157.77" x2="51.5" y2="157.77" stroke="#bdbdbd" stroke-width="1"/>
<text x="45.9" y="162.17" fill="#4d4d4d" font-size="10.1" text-anchor="end">700</text>
<line x1="48" y1="88.02" x2="51.5" y2="88.02" stroke="#bdbdbd" stroke-width="1"/>
<text x="45.9" y="92.42" fill="#4d4d4d" font-size="10.1" text-anchor="end">800</text>
<text x="317" y="480.6" fill="#000" font-size="12.6" text-anchor="middle">SOA</text>
<text transform="translate(9.0,236.4) rotate(-90)" x="0" y="0" fill="#000" font-size="12.6" text-anchor="middle">Mean Response Time (ms)</text>
<text x="602" y="218.4" fill="#000" font-size="12.6">Compatibility</text>
<line x1="611.6" y1="227.9" x2="611.6" y2="243.9" stroke="#808080" stroke-width="1.1"/>
<rect x="603.8" y="230.9" width="15.6" height="10" fill="#fff" stroke="#808080" stroke-width="1.1"/>
<line x1="603.8" y1="235.9" x2="619.4" y2="235.9" stroke="#808080" stroke-width="1.1"/>
<circle class="c" cx="611.6" cy="235.9" r="2.0"/>
<text x="627.8" y="239.9" fill="#000" font-size="10.2">Compatible</text>
<line x1="611.6" y1="247.8" x2="611.6" y2="263.8" stroke="#000" stroke-width="1.1"/>
<rect x="603.8" y="250.8" width="15.6" height="10" fill="#fff" stroke="#000" stroke-width="1.1"/>
<line x1="603.8" y1="255.8" x2="619.4" y2="255.8" stroke="#000" stroke-width="1.1"/>
<circle class="i" cx="611.6" cy="255.8" r="2.0"/>
<text x="627.8" y="259.8" fill="#000" font-size="10.2">Incompatible</text>
</svg>
</body></html>
